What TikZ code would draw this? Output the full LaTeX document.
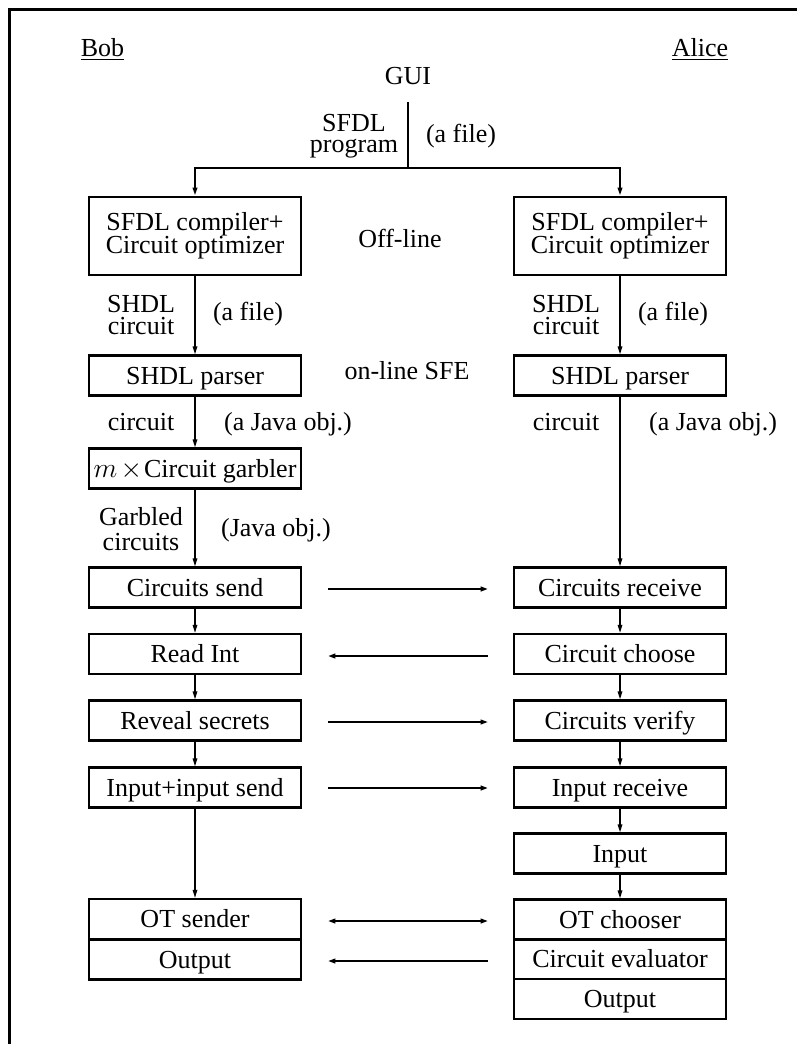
\documentclass[tikz,border=0pt]{standalone}
\usepackage{fontspec}
\setmainfont{Liberation Serif}
\usetikzlibrary{arrows.meta,calc}
\newcommand\diagfont{\fontsize{19.5}{17}\selectfont\lineskiplimit=-30pt\relax}
\begin{document}
\begin{tikzpicture}[x=0.75pt,y=-0.75pt,
  font=\diagfont,
  stepbox/.style={draw, line width=1.7pt, minimum width=159pt, minimum height=30pt, inner sep=0pt, align=center, text height=13pt, text depth=0pt},
  tallbox/.style={draw, line width=1.7pt, minimum width=159pt, minimum height=59pt, inner sep=0pt, align=center},
  lbl/.style={align=center, inner sep=0pt},
  conn/.style={line width=1.1pt, -{Triangle[length=6pt,width=3.4pt]}},
  msg/.style={line width=1.9pt, -{Triangle[length=5.5pt,width=3.6pt]}},
  msgthin/.style={line width=1.25pt, -{Triangle[length=5.5pt,width=3.6pt]}},
  msgboth/.style={line width=1.25pt, {Triangle[length=5.5pt,width=3.6pt]}-{Triangle[length=5.5pt,width=3.6pt]}},
  frame/.style={line width=1.9pt}
]
\useasboundingbox (0,0) rectangle (796,1044);
\draw[frame] (9.3,1050) -- (9.3,9.3) -- (800,9.3);

% headers
\node[lbl,anchor=base] (bob) at (102.5,57) {\underline{Bob}};
\node[lbl,anchor=base] (alice) at (700,57) {\underline{Alice}};
\node[lbl,anchor=base] (gui) at (408,85) {GUI};
\coordinate (j) at (408,168);
\node[lbl] (sfdl) at (354,136) {SFDL\\[-1pt]program};
\node[lbl] (f0) at (461,136) {(a file)};

% compiler boxes
\node[tallbox] (lc) at (195,236) {SFDL compiler+\\[0.3pt]Circuit optimizer};
\node[tallbox] (rc) at (620,236) {SFDL compiler+\\[0.3pt]Circuit optimizer};
\node[lbl] (off) at (400,238) {Off-line};

\node[lbl] (lsh) at (141,315) {SHDL\\circuit};
\node[lbl] (rsh) at (566,315) {SHDL\\circuit};
\node[lbl] (lf) at (248,314) {(a file)};
\node[lbl] (rf) at (673,314) {(a file)};

% parsers
\node[stepbox] (lp) at (195,375.5) {SHDL parser};
\node[stepbox] (rp) at (620,375.5) {SHDL parser};
\node[lbl] (on) at (407,371) {on-line SFE};

\node[lbl,anchor=base] (lci) at (141,430) {circuit};
\node[lbl,anchor=base] (rci) at (566,430) {circuit};
\node[lbl,anchor=base] (lj) at (288,430) {(a Java obj.)};
\node[lbl,anchor=base] (rj) at (713,430) {(a Java obj.)};

% garbler
\node[stepbox] (lg) at (195,468.5) {$m$\hspace{2.5pt}$\times$\hspace{1.5pt}Circuit garbler};
\node[lbl] (lgc) at (141,529) {Garbled\\[1.75pt]circuits};
\node[lbl] (ljo) at (276,530) {(Java obj.)};

% protocol rows
\node[stepbox] (ls) at (195,587.5) {Circuits send};
\node[stepbox] (rr) at (620,587.5) {Circuits receive};
\node[stepbox] (lr) at (195,654) {Read Int};
\node[stepbox] (rch) at (620,654) {Circuit choose};
\node[stepbox] (lv) at (195,720.5) {Reveal secrets};
\node[stepbox] (rv) at (620,720.5) {Circuits verify};
\node[stepbox] (li) at (195,787.5) {Input+input send};
\node[stepbox] (ri) at (620,787.5) {Input receive};
\node[stepbox] (rin) at (620,853.5) {Input};
\node[stepbox] (lot) at (195,919) {OT sender};
\node[stepbox] (lo) at (195,959.5) {Output};
\node[stepbox] (rot) at (620,919.5) {OT chooser};
\node[stepbox] (rev) at (620,959) {Circuit evaluator};
\node[stepbox] (ro) at (620,999) {Output};

% top distribution
\draw[line width=1.2pt] ($(gui.base)+(0,17)$) -- (j);
\draw[line width=1.7pt,-{Triangle[length=6pt,width=3.4pt]}] (j) -| (lc.north);
\draw[line width=1.7pt,-{Triangle[length=6pt,width=3.4pt]}] (j) -| (rc.north);

% vertical connectors
\draw[conn] (lc) -- (lp);
\draw[conn] (rc) -- (rp);
\draw[conn] (lp) -- (lg);
\draw[conn] (lg) -- (ls);
\draw[conn] (rp) -- (rr);
\draw[conn] (ls) -- (lr);
\draw[conn] (lr) -- (lv);
\draw[conn] (lv) -- (li);
\draw[conn] (li) -- (lot);
\draw[conn] (rr) -- (rch);
\draw[conn] (rch) -- (rv);
\draw[conn] (rv) -- (ri);
\draw[conn] (ri) -- (rin);
\draw[conn] (rin) -- (rot);

% messages
\draw[msg] ($(ls.east)+(26,1.5)$) -- ($(rr.west)+(-25,1.5)$);
\draw[msg] ($(rch.west)+(-25,2)$) -- ($(lr.east)+(26,2)$);
\draw[msgthin] ($(lv.east)+(26,1.5)$) -- ($(rv.west)+(-25,1.5)$);
\draw[msg] ($(li.east)+(26,0.5)$) -- ($(ri.west)+(-25,0.5)$);
\draw[msgboth] ($(lot.east)+(26,2)$) -- ($(rot.west)+(-25,1.5)$);
\draw[msgthin] ($(rev.west)+(-25,2)$) -- ($(lo.east)+(26,1.5)$);
\end{tikzpicture}
\end{document}
